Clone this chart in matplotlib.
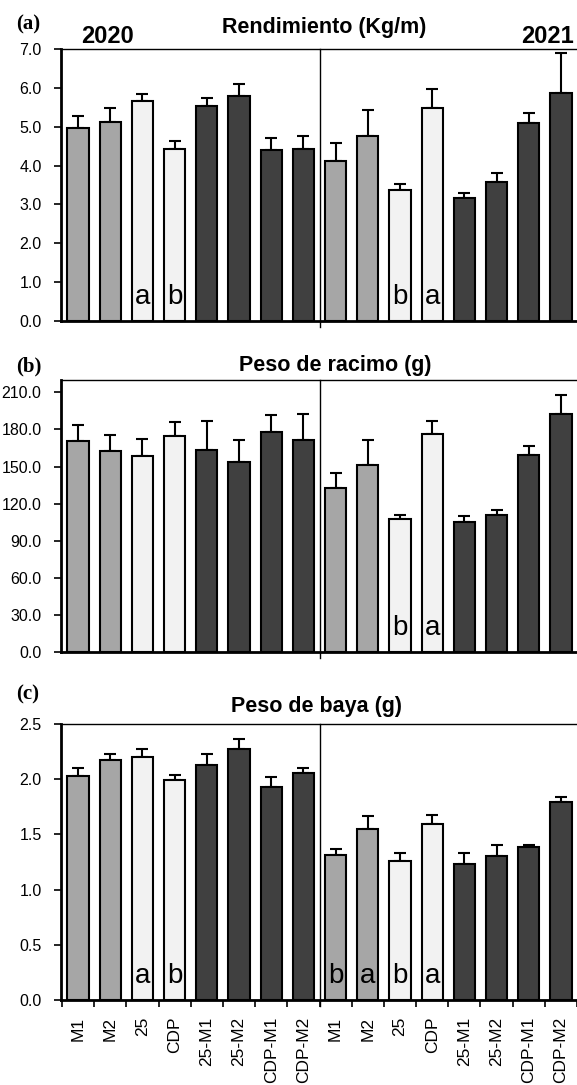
import matplotlib
matplotlib.use('Agg')
import matplotlib.pyplot as plt
import numpy as np
from matplotlib.ticker import FormatStrFormatter, FixedLocator
from matplotlib.transforms import offset_copy

plt.rcParams['font.family'] = ['Liberation Sans', 'DejaVu Sans']

# treatments, repeated for 2020 and 2021
treatments = ['M1', 'M2', '25', 'CDP', '25-M1', '25-M2', 'CDP-M1', 'CDP-M2']
tick_labels = treatments + treatments

# (a) Rendimiento (Kg/m)
rend_2020 = [4.97, 5.12, 5.67, 4.42, 5.54, 5.80, 4.41, 4.43]
rend_2020_err = [0.30, 0.36, 0.17, 0.20, 0.20, 0.30, 0.31, 0.33]
rend_2021 = [4.12, 4.75, 3.37, 5.49, 3.16, 3.59, 5.09, 5.88]
rend_2021_err = [0.45, 0.67, 0.15, 0.49, 0.13, 0.21, 0.26, 1.02]

# (b) Peso de racimo (g)
racimo_2020 = [170.9, 162.9, 158.9, 174.7, 163.7, 154.0, 177.9, 171.4]
racimo_2020_err = [12.3, 12.8, 13.1, 11.2, 23.5, 17.7, 13.4, 21.5]
racimo_2021 = [132.3, 151.6, 107.7, 176.0, 105.0, 110.6, 159.4, 192.9]
racimo_2021_err = [12.6, 19.6, 3.5, 10.7, 5.1, 4.3, 7.5, 15.0]

# (c) Peso de baya (g)
baya_2020 = [2.03, 2.17, 2.20, 1.99, 2.13, 2.27, 1.93, 2.06]
baya_2020_err = [0.07, 0.06, 0.07, 0.05, 0.10, 0.09, 0.09, 0.04]
baya_2021 = [1.31, 1.55, 1.26, 1.59, 1.23, 1.30, 1.39, 1.79]
baya_2021_err = [0.06, 0.12, 0.07, 0.09, 0.10, 0.10, 0.01, 0.05]

# significance letters: {bar index: letter}
letters_a = {2: 'a', 3: 'b', 10: 'b', 11: 'a'}
letters_b = {10: 'b', 11: 'a'}
letters_c = {2: 'a', 3: 'b', 8: 'b', 9: 'a', 10: 'b', 11: 'a'}

GRAY = '#a6a6a6'
LIGHT = '#f2f2f2'
DARK = '#404040'
bar_colors = ([GRAY, GRAY, LIGHT, LIGHT] + [DARK] * 4) * 2

W, H = 577, 1085
fig = plt.figure(figsize=(W / 100, H / 100), dpi=100)


def px_axes(left, top, right, bottom):
    return fig.add_axes([left / W, 1 - bottom / H, (right - left) / W, (bottom - top) / H])


def panel(ax, vals, errs, ymax, ystep, title, title_x, title_pad, tag, tag_y, letters, show_x):
    x = np.arange(len(vals))
    ax.errorbar(x, vals, yerr=[np.zeros(len(errs)), errs], fmt='none', ecolor='black',
                elinewidth=1.5, capsize=4.3, capthick=1.5, zorder=1)
    ax.bar(x, vals, width=0.66, color=bar_colors, edgecolor='black', linewidth=1.5, zorder=2)
    ax.set_xlim(-0.53, 15.53)
    ax.set_ylim(0, ymax)
    ax.yaxis.set_major_locator(FixedLocator(np.arange(0, ymax + 1e-9, ystep)))
    ax.yaxis.set_major_formatter(FormatStrFormatter('%.1f'))
    ax.tick_params(axis='y', direction='out', length=5, width=1.2, pad=9, labelsize=11.5)
    ax.spines['left'].set_linewidth(2.0)
    ax.spines['bottom'].set_linewidth(2.0)
    ax.spines['top'].set_linewidth(1.0)
    ax.spines['right'].set_linewidth(1.0)
    # divider between years, a bit longer below the axis
    ax.plot([7.5, 7.5], [-0.022, 1], color='black', lw=1.0,
            transform=ax.get_xaxis_transform(), clip_on=False, zorder=3)
    if show_x:
        ax.set_xticks(x)
        ax.set_xticklabels(tick_labels, rotation=90, fontsize=12.5)
        ax.set_xticks(np.arange(-0.5, 16, 1), minor=True)
        ax.tick_params(axis='x', which='major', length=0, pad=12)
        ax.tick_params(axis='x', which='minor', direction='out', length=5, width=1.2)
    else:
        ax.set_xticks([])
    for i, s in letters.items():
        ax.annotate(s, (i, 0), xytext=(0, 12), textcoords='offset points',
                    ha='center', va='baseline', fontsize=20, zorder=4)
    ax.text(title_x, 1, title, ha='center', va='baseline', fontsize=15.5, fontweight='bold',
            transform=offset_copy(ax.transAxes, fig=fig, y=title_pad, units='dots'))
    fig.text(16 / W, 1 - tag_y / H, tag, family='Liberation Serif', fontweight='bold',
             fontsize=15, ha='left', va='baseline')


vals_a = rend_2020 + rend_2021
errs_a = rend_2020_err + rend_2021_err
vals_b = racimo_2020 + racimo_2021
errs_b = racimo_2020_err + racimo_2021_err
vals_c = baya_2020 + baya_2021
errs_c = baya_2020_err + baya_2021_err

ax_a = px_axes(61, 49, 578, 321)
panel(ax_a, vals_a, errs_a, 7.0, 1.0, 'Rendimiento (Kg/m)', 0.51, 16, '(a)', 29, letters_a, False)
fig.text(107 / W, 1 - 43 / H, '2020', ha='center', va='baseline', fontsize=17, fontweight='bold')
fig.text(547 / W, 1 - 43 / H, '2021', ha='center', va='baseline', fontsize=17, fontweight='bold')

ax_b = px_axes(61, 380, 578, 652)
panel(ax_b, vals_b, errs_b, 220.0, 30.0, 'Peso de racimo (g)', 0.53, 9, '(b)', 371, letters_b, False)

ax_c = px_axes(61, 724, 578, 1000)
panel(ax_c, vals_c, errs_c, 2.5, 0.5, 'Peso de baya (g)', 0.495, 12, '(c)', 699, letters_c, True)

fig.savefig('out.png', dpi=100)
